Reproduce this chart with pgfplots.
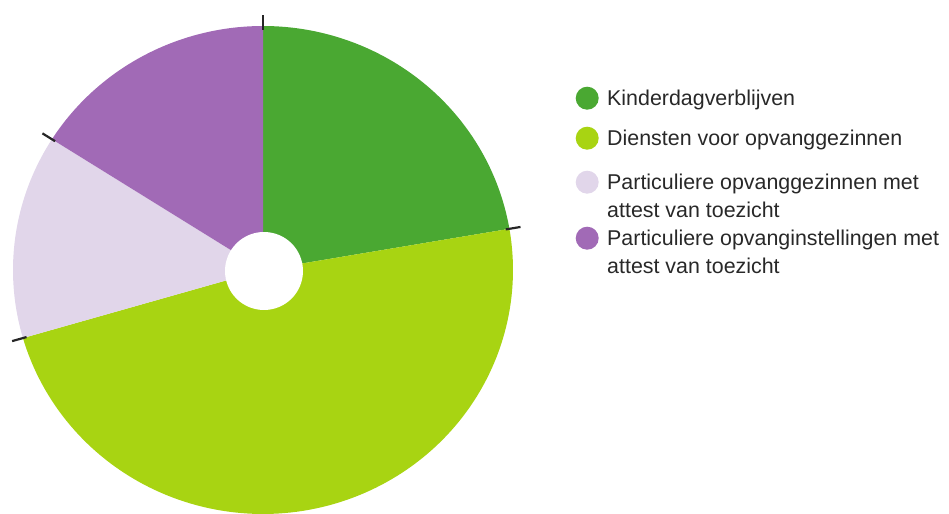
\documentclass[border=0pt]{standalone}
\usepackage{pgfplots}
\usepackage{pgfplotstable}
\pgfplotsset{compat=1.18}
\usepackage{fontspec}
\setmainfont{Liberation Sans}

\definecolor{cA}{RGB}{74,168,50}
\definecolor{cB}{RGB}{168,212,18}
\definecolor{cC}{RGB}{225,214,234}
\definecolor{cD}{RGB}{161,106,182}
\definecolor{txt}{RGB}{40,40,40}

% share of each group (percent), clockwise from the top
\pgfplotstableread{
group value
A 22.3
B 48.2
C 13.5
D 16.0
}\piedata

\pgfplotsset{
  dotlegend/.style={legend image code/.code={\fill[##1] (0bp,7.7bp) circle[radius=11.5bp];}},
}

\begin{document}
\begin{tikzpicture}
\pgfplotstablegetelem{0}{value}\of\piedata \let\vA\pgfplotsretval
\pgfplotstablegetelem{1}{value}\of\piedata \let\vB\pgfplotsretval
\pgfplotstablegetelem{2}{value}\of\piedata \let\vC\pgfplotsretval
\pgfplotstablegetelem{3}{value}\of\piedata \let\vD\pgfplotsretval
\pgfmathsetmacro\aZ{90}
\pgfmathsetmacro\aA{\aZ-3.6*\vA}
\pgfmathsetmacro\aB{\aA-3.6*\vB}
\pgfmathsetmacro\aC{\aB-3.6*\vC}
\pgfmathsetmacro\aD{\aC-3.6*\vD}
\def\cx{263}\def\cy{244}\def\rx{250}\def\ry{244}
\begin{axis}[
  scale only axis, width=949bp, height=514bp,
  xmin=0, xmax=949, ymin=0, ymax=514,
  hide axis,
  legend style={
    draw=none, fill=none, inner sep=0pt, row sep=0pt, column sep=8.5bp,
    at={(axis cs:575.5,428.3)}, anchor=north west,
    cells={anchor=base west},
    nodes={inner sep=0pt, text depth=},
    font=\fontsize{21.4bp}{28bp}\selectfont\color{txt},
  },
]
\addplot[dotlegend, fill=cA, draw=none, domain=\aA:\aZ, samples=80]
  ({\cx+\rx*cos(x)},{\cy+\ry*sin(x)}) -- (axis cs:\cx,\cy) -- cycle;
\addlegendentry{\rule[-20bp]{0pt}{40bp}Kinderdagverblijven}
\addplot[dotlegend, fill=cB, draw=none, domain=\aB:\aA, samples=120]
  ({\cx+\rx*cos(x)},{\cy+\ry*sin(x)}) -- (axis cs:\cx,\cy) -- cycle;
\addlegendentry{\rule[-24bp]{0pt}{44bp}Diensten voor opvanggezinnen}
\addplot[dotlegend, fill=cC, draw=none, domain=\aC:\aB, samples=60]
  ({\cx+\rx*cos(x)},{\cy+\ry*sin(x)}) -- (axis cs:\cx,\cy) -- cycle;
\addlegendentry{\vtop{\baselineskip=28bp\hbox{\rule[-8bp]{0pt}{28bp}Particuliere opvanggezinnen met}\hbox{\rule[-8bp]{0pt}{28bp}attest van toezicht}}}
\addplot[dotlegend, fill=cD, draw=none, domain=\aD:\aC, samples=60]
  ({\cx+\rx*cos(x)},{\cy+\ry*sin(x)}) -- (axis cs:\cx,\cy) -- cycle;
\addlegendentry{\vtop{\baselineskip=28bp\hbox{\rule[-8bp]{0pt}{28bp}Particuliere opvanginstellingen met}\hbox{\rule[-8bp]{0pt}{28bp}attest van toezicht}}}
% centre hole
\addplot[forget plot, fill=white, draw=none, domain=0:360, samples=80]
  ({264+39*cos(x)},{243+39*sin(x)}) -- cycle;
% small ticks at the sector boundaries
\addplot[forget plot, black!85, line width=2.2bp, domain=0.985:1.045, samples=2]
  ({\cx+\rx*x*cos(\aZ)},{\cy+\ry*x*sin(\aZ)});
\addplot[forget plot, black!85, line width=2.2bp, domain=0.985:1.045, samples=2]
  ({\cx+\rx*x*cos(\aA)},{\cy+\ry*x*sin(\aA)});
\addplot[forget plot, black!85, line width=2.2bp, domain=0.985:1.045, samples=2]
  ({\cx+\rx*x*cos(\aB)},{\cy+\ry*x*sin(\aB)});
\addplot[forget plot, black!85, line width=2.2bp, domain=0.985:1.045, samples=2]
  ({\cx+\rx*x*cos(\aC)},{\cy+\ry*x*sin(\aC)});
\end{axis}
\pgfresetboundingbox
\useasboundingbox (current axis.south west) rectangle (current axis.north east);
\end{tikzpicture}
\end{document}
